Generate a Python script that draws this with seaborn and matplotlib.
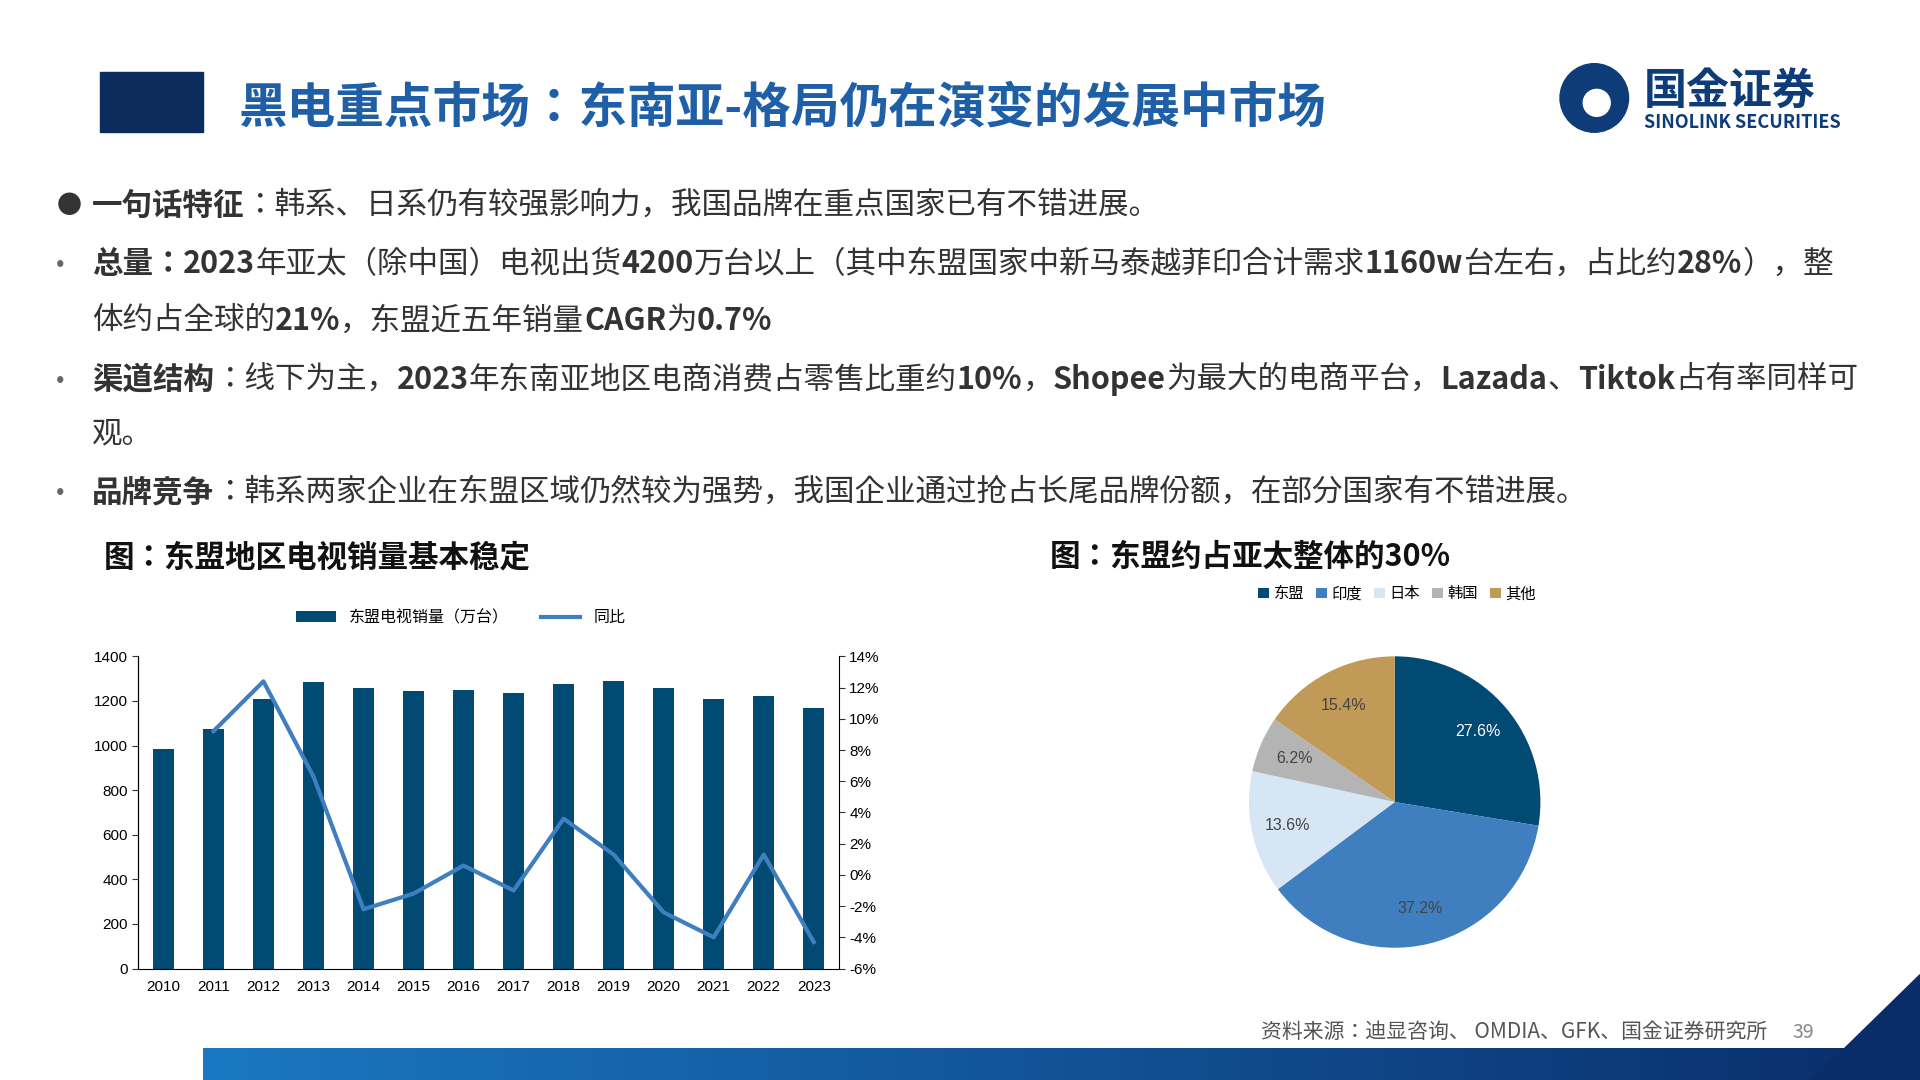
import numpy as np
import pandas as pd
import matplotlib
matplotlib.use('Agg')
import matplotlib.pyplot as plt
import seaborn as sns
from matplotlib import font_manager
from matplotlib.patches import Rectangle, Ellipse, Polygon

available = {f.name for f in font_manager.fontManager.ttflist}
cjk = [n for n in ['Noto Sans CJK SC', 'Noto Sans CJK JP', 'Noto Sans SC'] if n in available]
plt.rcParams['font.family'] = cjk + ['DejaVu Sans']

# ---- data ----
years = ['2010', '2011', '2012', '2013', '2014', '2015', '2016',
         '2017', '2018', '2019', '2020', '2021', '2022', '2023']
sales = [985, 1075, 1210, 1285, 1258, 1245, 1250, 1237, 1278, 1290, 1258, 1210, 1222, 1168]
yoy = [None, 9.2, 12.4, 6.3, -2.2, -1.2, 0.6, -1.0, 3.6, 1.3, -2.4, -4.0, 1.3, -4.3]

regions = ['东盟', '印度', '日本', '韩国', '其他']
shares = [27.6, 37.2, 13.6, 6.2, 15.4]
pie_colors = ['#004a74', '#3f7fbf', '#d6e6f4', '#b4b4b4', '#c19a57']

W, H = 1568, 882
def fx(x): return x / W
def fy(y): return 1 - y / H

fig = plt.figure(figsize=(19.2, 10.8), dpi=100)
fig.patch.set_facecolor('white')

# ---- header ----
fig.patches.append(Rectangle((fx(82), fy(108)), fx(84), 49 / H, transform=fig.transFigure,
                             color='#0d2c5e', zorder=1))
fig.text(fx(195), fy(88), '黑电重点市场：东南亚-格局仍在演变的发展中市场', fontsize=35,
         color='#1f5fa8', fontweight='bold', va='center')
fig.patches.append(Ellipse((fx(1302), fy(80)), 56 / W, 56 / H, transform=fig.transFigure,
                           color='#0d3c78', zorder=2))
fig.patches.append(Ellipse((fx(1304), fy(84)), 22 / W, 22 / H, transform=fig.transFigure,
                           color='white', zorder=3))
fig.text(fx(1342), fy(74), '国金证券', fontsize=31, color='#0d3c78', fontweight='bold', va='center')
fig.text(fx(1343), fy(100), 'SINOLINK SECURITIES', fontsize=13, color='#0d3c78',
         fontweight='bold', va='center')

# ---- bullet text ----
fig.canvas.draw()
renderer = fig.canvas.get_renderer()

def seg_line(x, y, segs, size=22):
    for txt, bold in segs:
        t = fig.text(fx(x), fy(y), txt, fontsize=size, color='#333333',
                     fontweight='bold' if bold else 'normal', va='center')
        bb = t.get_window_extent(renderer)
        x += bb.width * W / fig.bbox.width

fig.text(fx(46), fy(168), '●', fontsize=18, color='#333333', va='center')
seg_line(75, 168, [('一句话特征', True), ('：韩系、日系仍有较强影响力，我国品牌在重点国家已有不错进展。', False)])
for yb in [216, 310, 402]:
    fig.text(fx(46), fy(yb), '•', fontsize=18, color='#666666', va='center')
seg_line(75, 216, [('总量：', True), ('2023', True), ('年亚太（除中国）电视出货', False), ('4200', True),
                   ('万台以上（其中东盟国家中新马泰越菲印合计需求', False), ('1160w', True),
                   ('台左右，占比约', False), ('28%', True), ('），整', False)])
seg_line(75, 262, [('体约占全球的', False), ('21%', True), ('，东盟近五年销量', False),
                   ('CAGR', True), ('为', False), ('0.7%', True)])
seg_line(75, 310, [('渠道结构', True), ('：线下为主，', False), ('2023', True),
                   ('年东南亚地区电商消费占零售比重约', False), ('10%', True), ('，', False),
                   ('Shopee', True), ('为最大的电商平台，', False), ('Lazada', True), ('、', False),
                   ('Tiktok', True), ('占有率同样可', False)])
seg_line(75, 354, [('观。', False)])
seg_line(75, 402, [('品牌竞争', True), ('：韩系两家企业在东盟区域仍然较为强势，我国企业通过抢占长尾品牌份额，在部分国家有不错进展。', False)])

fig.text(fx(85), fy(455), '图：东盟地区电视销量基本稳定', fontsize=22, fontweight='bold',
         color='#111111', va='center')
fig.text(fx(857), fy(455), '图：东盟约占亚太整体的30%', fontsize=22, fontweight='bold',
         color='#111111', va='center')

# ---- bar + line chart ----
ax = fig.add_axes([fx(113), fy(791), fx(685) - fx(113), (791 - 536) / H])
df = pd.DataFrame({'year': years, 'sales': sales, 'yoy': yoy})
sns.barplot(data=df, x='year', y='sales', color='#004a74', width=0.42, ax=ax,
            saturation=1, label='东盟电视销量（万台）')
ax.set_ylim(0, 1400)
ax.set_yticks(range(0, 1401, 200))
ax.set_xlabel('')
ax.set_ylabel('')
ax.set_xlim(-0.5, len(years) - 0.5)
ax2 = ax.twinx()
line_df = df.dropna()
ax2.plot([years.index(y) for y in line_df['year']], line_df['yoy'], color='#3f7fbf',
         lw=3, label='同比')
ax2.set_ylim(-6, 14)
ax2.set_yticks(range(-6, 15, 2))
ax2.set_yticklabels([f'{v}%' for v in range(-6, 15, 2)])
for a in (ax, ax2):
    a.tick_params(labelsize=11, length=4, color='#333333')
    a.spines['top'].set_visible(False)
    for lab in a.get_xticklabels() + a.get_yticklabels():
        lab.set_fontfamily('Liberation Sans')
ax.spines['right'].set_visible(False)
ax2.spines['bottom'].set_visible(False)
ax.tick_params(axis='x', length=0, pad=8)
h1, l1 = ax.get_legend_handles_labels()
h2, l2 = ax2.get_legend_handles_labels()
ax.legend(h1 + h2, l1 + l2, loc='lower center', bbox_to_anchor=(0.46, 1.05), ncol=2,
          frameon=False, fontsize=11.5, handlelength=2.5)

# ---- pie chart ----
r = 119
axp = fig.add_axes([fx(1139 - r), fy(655 + r), 2 * r / W, 2 * r / H])
wedges, texts = axp.pie(shares, colors=pie_colors, startangle=90, counterclock=False,
                        radius=1.0)
for w, v in zip(wedges, shares):
    ang = np.deg2rad((w.theta1 + w.theta2) / 2)
    axp.text(0.75 * np.cos(ang), 0.75 * np.sin(ang), f'{v}%', ha='center', va='center',
             fontsize=11.5, fontfamily='Liberation Sans',
             color='#ffffff' if v == 27.6 else '#444444')
axp.set_xlim(-1, 1)
axp.set_ylim(-1, 1)
axp.set_aspect('equal')
fig.legend(wedges, regions, loc='center', bbox_to_anchor=(fx(1141), fy(485)), ncol=5,
           frameon=False, fontsize=11, handlelength=0.7, handleheight=0.7,
           columnspacing=0.8, handletextpad=0.3)

# ---- footer ----
fig.text(fx(1030), fy(843), '资料来源：迪显咨询、 OMDIA、GFK、国金证券研究所', fontsize=15,
         color='#555555', va='center')
fig.text(fx(1464), fy(843), '39', fontsize=14, color='#888888', va='center')
grad = np.linspace(0, 1, 256).reshape(1, -1)
axg = fig.add_axes([fx(166), 0, 1 - fx(166), 26 / H])
axg.imshow(grad, aspect='auto', cmap=matplotlib.colors.LinearSegmentedColormap.from_list(
    'g', ['#1a78c2', '#0a2d6a']))
axg.axis('off')
fig.patches.append(Polygon([(fx(1480), 0), (1, fy(796)), (1, 0)], closed=True,
                           transform=fig.transFigure, color='#0a2d6a', zorder=3))

fig.savefig('out.png', dpi=100)
